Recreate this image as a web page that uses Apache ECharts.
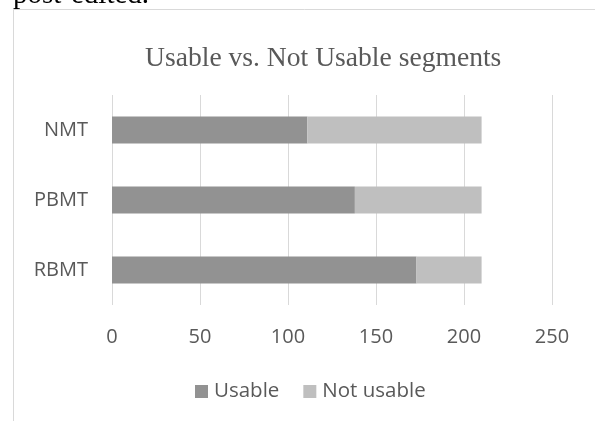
<!DOCTYPE html>
<html>
<head>
<meta charset="utf-8">
<script src="https://cdn.jsdelivr.net/npm/echarts@6/dist/echarts.min.js"></script>
<style>
  html, body { margin: 0; padding: 0; background: #fff; overflow: hidden; }
  #wrap { position: relative; width: 595px; height: 421px; overflow: hidden; }
  #chart { position: absolute; left: 0; top: 0; width: 595px; height: 421px; }
  #caption {
    position: absolute; left: 13px; top: -23px;
    font: 29px "Liberation Serif", "Times New Roman", serif;
    line-height: 33px; color: #000; white-space: nowrap;
  }
</style>
</head>
<body>
<div id="wrap">
  <div id="chart"></div>
  <div id="caption">post-edited.</div>
</div>
<script>
// Segment counts per MT system
const categories = ['RBMT', 'PBMT', 'NMT'];
const usable = [173, 138, 111];
const notUsable = [37, 72, 99];
const xTicks = [0, 50, 100, 150, 200, 250];

const labelFont = '"Open Sans", sans-serif';
const textGray = '#595959';

const chart = echarts.init(document.getElementById('chart'), null, { renderer: 'canvas' });

chart.setOption({
  animation: false,
  backgroundColor: 'transparent',
  title: {
    text: 'Usable vs. Not Usable segments',
    left: 145,
    top: 45,
    padding: 0,
    textStyle: {
      fontFamily: '"Liberation Serif", "Times New Roman", serif',
      fontWeight: 'normal',
      fontSize: 27.6,
      color: textGray
    }
  },
  graphic: [
    {
      type: 'rect',
      shape: { x: 13.5, y: 9.5, width: 700, height: 500 },
      style: { fill: 'none', stroke: '#d9d9d9', lineWidth: 1 },
      z: -1
    }
  ],
  legend: {
    data: ['Usable', 'Not usable'],
    left: 195,
    top: 381,
    padding: 0,
    itemWidth: 13,
    itemHeight: 13,
    itemGap: 24,
    icon: 'rect',
    textStyle: { fontFamily: labelFont, fontSize: 20.5, color: textGray, padding: [0, 0, 0, 1] }
  },
  grid: { left: 112, right: 43, top: 95, bottom: 116, containLabel: false },
  xAxis: {
    type: 'value',
    min: xTicks[0],
    max: xTicks[xTicks.length - 1],
    interval: xTicks[1] - xTicks[0],
    axisLine: { show: false },
    axisTick: { show: false },
    axisLabel: { fontFamily: labelFont, fontSize: 20, color: textGray, margin: 22 },
    splitLine: { show: true, lineStyle: { color: '#d9d9d9', width: 1 } }
  },
  yAxis: {
    type: 'category',
    data: categories,
    axisLine: { show: false },
    axisTick: { show: false },
    axisLabel: { fontFamily: labelFont, fontSize: 20, color: textGray, margin: 24 }
  },
  series: [
    {
      name: 'Usable',
      type: 'bar',
      stack: 'total',
      barWidth: 27,
      data: usable,
      itemStyle: { color: '#929292' }
    },
    {
      name: 'Not usable',
      type: 'bar',
      stack: 'total',
      barWidth: 27,
      data: notUsable,
      itemStyle: { color: '#bfbfbf' }
    }
  ]
});
</script>
</body>
</html>
